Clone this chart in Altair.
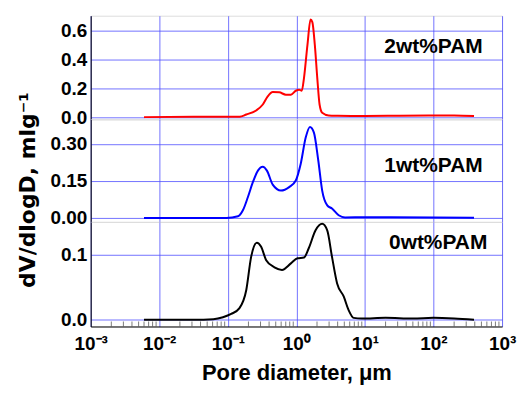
import altair as alt
import pandas as pd

# ---- data (pore diameter in µm, dV/dlogD) ----
red_x = [0.006, 0.0316, 0.1, 0.149, 0.186, 0.259, 0.324, 0.382, 0.452, 0.562, 0.703, 0.832,
         0.98, 1.10, 1.20, 1.29, 1.45, 1.61, 1.71, 1.86, 2.02, 2.18, 2.38, 2.95,
         4.0, 10.0, 31.6, 100.0, 200.0, 390.0]
red_y = [0.0, 0.002, 0.002, 0.003, 0.018, 0.046, 0.087, 0.143, 0.173, 0.171, 0.155, 0.155,
         0.182, 0.189, 0.182, 0.268, 0.497, 0.674, 0.656, 0.497, 0.268, 0.087, 0.03, 0.012,
         0.01, 0.008, 0.01, 0.012, 0.012, 0.008]

blue_x = [0.006, 0.095, 0.141, 0.166, 0.196, 0.232, 0.275, 0.324, 0.372, 0.452, 0.596, 0.785,
          0.98, 1.156, 1.368, 1.578, 1.803, 2.09, 2.38, 2.82, 3.31, 4.14, 5.13,
          10.0, 100.0, 390.0]
blue_y = [0.0, 0.0, 0.007, 0.031, 0.084, 0.145, 0.192, 0.208, 0.192, 0.135, 0.111, 0.125,
          0.152, 0.219, 0.326, 0.369, 0.346, 0.232, 0.111, 0.051, 0.038, 0.011, 0.002,
          0.003, 0.002, 0.001]

black_x = [0.006, 0.0316, 0.0617, 0.085, 0.112, 0.148, 0.186, 0.219, 0.265, 0.305, 0.363, 0.479,
           0.617, 0.832, 1.04, 1.29, 1.51, 1.905, 2.38, 2.82, 3.31, 3.93, 4.9, 5.78, 6.84,
           9.0, 20.0, 50.0, 100.0, 200.0, 390.0]
black_y = [0.0, 0.0, 0.001, 0.004, 0.009, 0.018, 0.046, 0.097, 0.119, 0.113, 0.092, 0.081,
           0.077, 0.087, 0.095, 0.096, 0.11, 0.138, 0.148, 0.138, 0.097, 0.056, 0.036, 0.015, 0.003,
           0.002, 0.003, 0.002, 0.003, 0.002, 0.0]

panel_labels = ["2wt%PAM", "1wt%PAM", "0wt%PAM"]
label_x = [100.0, 100.0, 117.0]
label_y = [0.485, 0.212, 0.118]

x_ticks = [0.001, 0.01, 0.1, 1, 10, 100, 1000]
x_tick_labels = ["10⁻³", "10⁻²", "10⁻¹", "10⁰", "10¹", "10²", "10³"]
x_minor = [m * d for d in x_ticks[:-1] for m in range(2, 10)]

FONT = "Liberation Sans"
GRID = "#4f4fff"
W = 413

x_expr = " : ".join(
    f"datum.value < {v * 3.0} ? '{t}'" for v, t in zip(x_ticks[:-1], x_tick_labels[:-1])
) + f" : '{x_tick_labels[-1]}'"

xscale = alt.Scale(type="log", domain=[0.001, 1000])


def panel(xs, ys, color, domain, yvals, fmt, label, lx, ly, height,
          show_x=False, ytitle=None):
    df = pd.DataFrame({"d": xs, "v": ys})
    if show_x:
        xaxis = alt.Axis(values=x_ticks, labelExpr=x_expr, grid=True, gridColor=GRID,
                         gridOpacity=0.8, ticks=False, domain=True, domainColor="#000",
                         labelFont=FONT, labelFontSize=19, labelFontWeight="bold",
                         labelColor="#000", labelPadding=8, labelFlush=False,
                         labelOverlap=False, title="Pore diameter, μm",
                         titleFont=FONT, titleFontSize=22, titleFontWeight="bold",
                         titleColor="#000", titlePadding=9)
    else:
        xaxis = alt.Axis(values=x_ticks, grid=True, gridColor=GRID, gridOpacity=0.8,
                         labels=False, ticks=False, domain=False, title=None)
    yaxis_kw = dict(values=yvals, format=fmt, grid=True, gridColor=GRID, gridOpacity=0.8,
                    ticks=False, domain=True, domainColor="#000", labelOverlap=False,
                    labelFlush=False,
                    labelFont=FONT, labelFontSize=19, labelFontWeight="bold",
                    labelColor="#000", labelPadding=4)
    if ytitle:
        yaxis = alt.Axis(title=ytitle, titleFont="DejaVu Sans", titleFontSize=22,
                         titleFontWeight="bold", titleColor="#000", titlePadding=10,
                         titleY=height / 2 + 19, titleAlign="center", **yaxis_kw)
    else:
        yaxis = alt.Axis(title=None, **yaxis_kw)
    yscale = alt.Scale(domain=domain, nice=False, zero=False)
    xenc = alt.X("d:Q", scale=xscale, axis=xaxis)
    yenc = alt.Y("v:Q", scale=yscale, axis=yaxis)
    line = alt.Chart(df).mark_line(color=color, strokeWidth=2, interpolate="monotone",
                                   clip=True).encode(x=xenc, y=yenc)
    tdf = pd.DataFrame({"d": [lx], "v": [ly], "t": [label]})
    txt = alt.Chart(tdf).mark_text(font=FONT, fontSize=21, fontWeight="bold",
                                   color="#000").encode(x=xenc, y=yenc, text="t:N")
    layers = [line, txt]
    if show_x:
        mdf = pd.DataFrame({"d": x_minor})
        minor = alt.Chart(mdf).mark_tick(orient="vertical", size=5, thickness=1,
                                         color="#444").encode(
            x=xenc, y=alt.value(height - 2.5))
        layers.append(minor)
    return alt.layer(*layers).properties(width=W, height=height)


top = panel(red_x, red_y, "#ff0000", [-0.015, 0.7], [0.0, 0.2, 0.4, 0.6], ".1f",
            panel_labels[0], label_x[0], label_y[0], 104)
mid = panel(blue_x, blue_y, "#0000ff", [-0.016, 0.4], [0.0, 0.15, 0.30], ".2f",
            panel_labels[1], label_x[1], label_y[1], 103, ytitle="dV/dlogD, mlg⁻¹")
bot = panel(black_x, black_y, "#000000", [-0.0103, 0.151], [0.0, 0.1], ".1f",
            panel_labels[2], label_x[2], label_y[2], 105, show_x=True)

chart = alt.vconcat(top, mid, bot, spacing=0, bounds="flush").properties(
    padding={"top": 6, "left": 8, "right": 0, "bottom": 0}
).configure_view(stroke="#666", strokeWidth=1).configure(background="white")

chart.save("out.html", embed_options={"renderer": "svg", "actions": False})
